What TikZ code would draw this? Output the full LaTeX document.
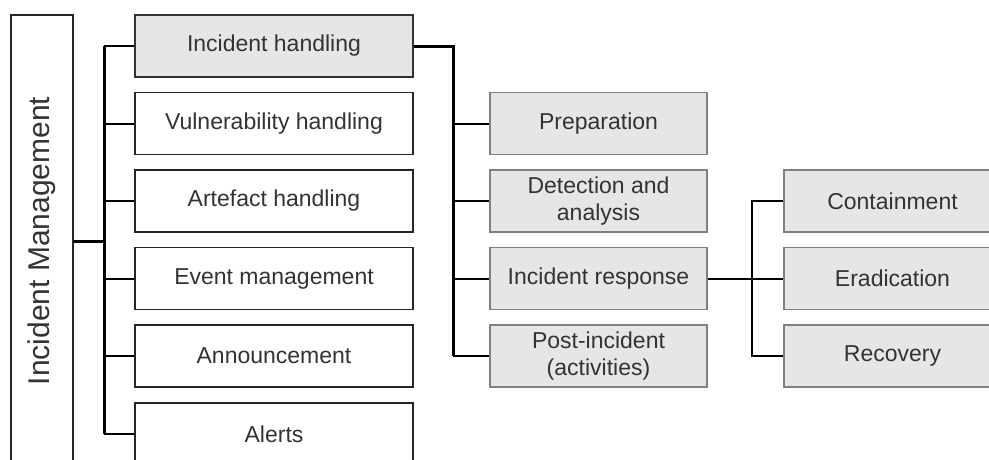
\documentclass[tikz,border=0pt]{standalone}
\usepackage{fontspec}
\setmainfont{Liberation Sans}
\usetikzlibrary{positioning}

\definecolor{boxgray}{HTML}{E6E6E6}
\definecolor{edgegray}{HTML}{808080}
\definecolor{txtgray}{HTML}{333333}

\tikzset{
  wbox/.style={draw=black!85,line width=1.3pt,fill=white,text=txtgray,minimum width=278pt,minimum height=62pt,inner sep=0pt,align=center,font=\fontsize{23}{27.5}\selectfont},
  gbox/.style={wbox,fill=boxgray,draw=edgegray,minimum width=217pt},
  trunk/.style={line width=3pt},
  branch/.style={line width=2pt}
}

\begin{document}
\begin{tikzpicture}[x=1pt,y=-1pt]
\useasboundingbox (0,0) rectangle (989,459);
\clip (0,0) rectangle (989,459);
\node[draw=black!85,line width=1.3pt,fill=white,text=txtgray,rotate=90,minimum width=452pt,minimum height=62pt,inner sep=0pt,font=\fontsize{30}{36}\selectfont] (im) at (42,241) {Incident Management};
\node[wbox,fill=boxgray,draw=black!80] (ih) at (274,46) {Incident handling};
\node[wbox] (vh) at (274,123.5) {Vulnerability handling};
\node[wbox] (ah) at (274,201) {Artefact handling};
\node[wbox] (em) at (274,278.5) {Event management};
\node[wbox] (an) at (274,356) {Announcement};
\node[wbox] (al) at (274,434) {Alerts};
\node[gbox] (pr) at (598.5,123.5) {Preparation};
\node[gbox] (da) at (598.5,201) {Detection and\\analysis};
\node[gbox] (ir) at (598.5,278.5) {Incident response};
\node[gbox] (pi) at (598.5,356) {Post-incident\\(activities)};
\node[gbox] (co) at (892.5,201) {Containment};
\node[gbox] (er) at (892.5,278.5) {Eradication};
\node[gbox] (re) at (892.5,356) {Recovery};
% junction points
\coordinate (t0) at (104,46);
\coordinate (t1) at (104,434);
\coordinate (t2) at (453,356);
\coordinate (t3) at (752,356);
% main tree
\draw[trunk] (t0) -- (t1);
\draw[trunk] (im.south) -- (im.south -| t0);
\draw[branch] (t0) -- (ih.west);
\draw[branch] (vh.west -| t0) -- (vh.west);
\draw[branch] (ah.west -| t0) -- (ah.west);
\draw[branch] (em.west -| t0) -- (em.west);
\draw[branch] (an.west -| t0) -- (an.west);
\draw[branch] (t1) -- (al.west);
% incident handling
\draw[trunk] (ih.east) -| (t2);
\draw[branch] (pr.west -| t2) -- (pr.west);
\draw[branch] (da.west -| t2) -- (da.west);
\draw[branch] (ir.west -| t2) -- (ir.west);
\draw[branch] (t2) -- (pi.west);
% incident response
\draw[branch] (ir.east) -- (er.west);
\draw[branch] (co.west) -| (t3) -- (re.west);
\end{tikzpicture}
\end{document}
